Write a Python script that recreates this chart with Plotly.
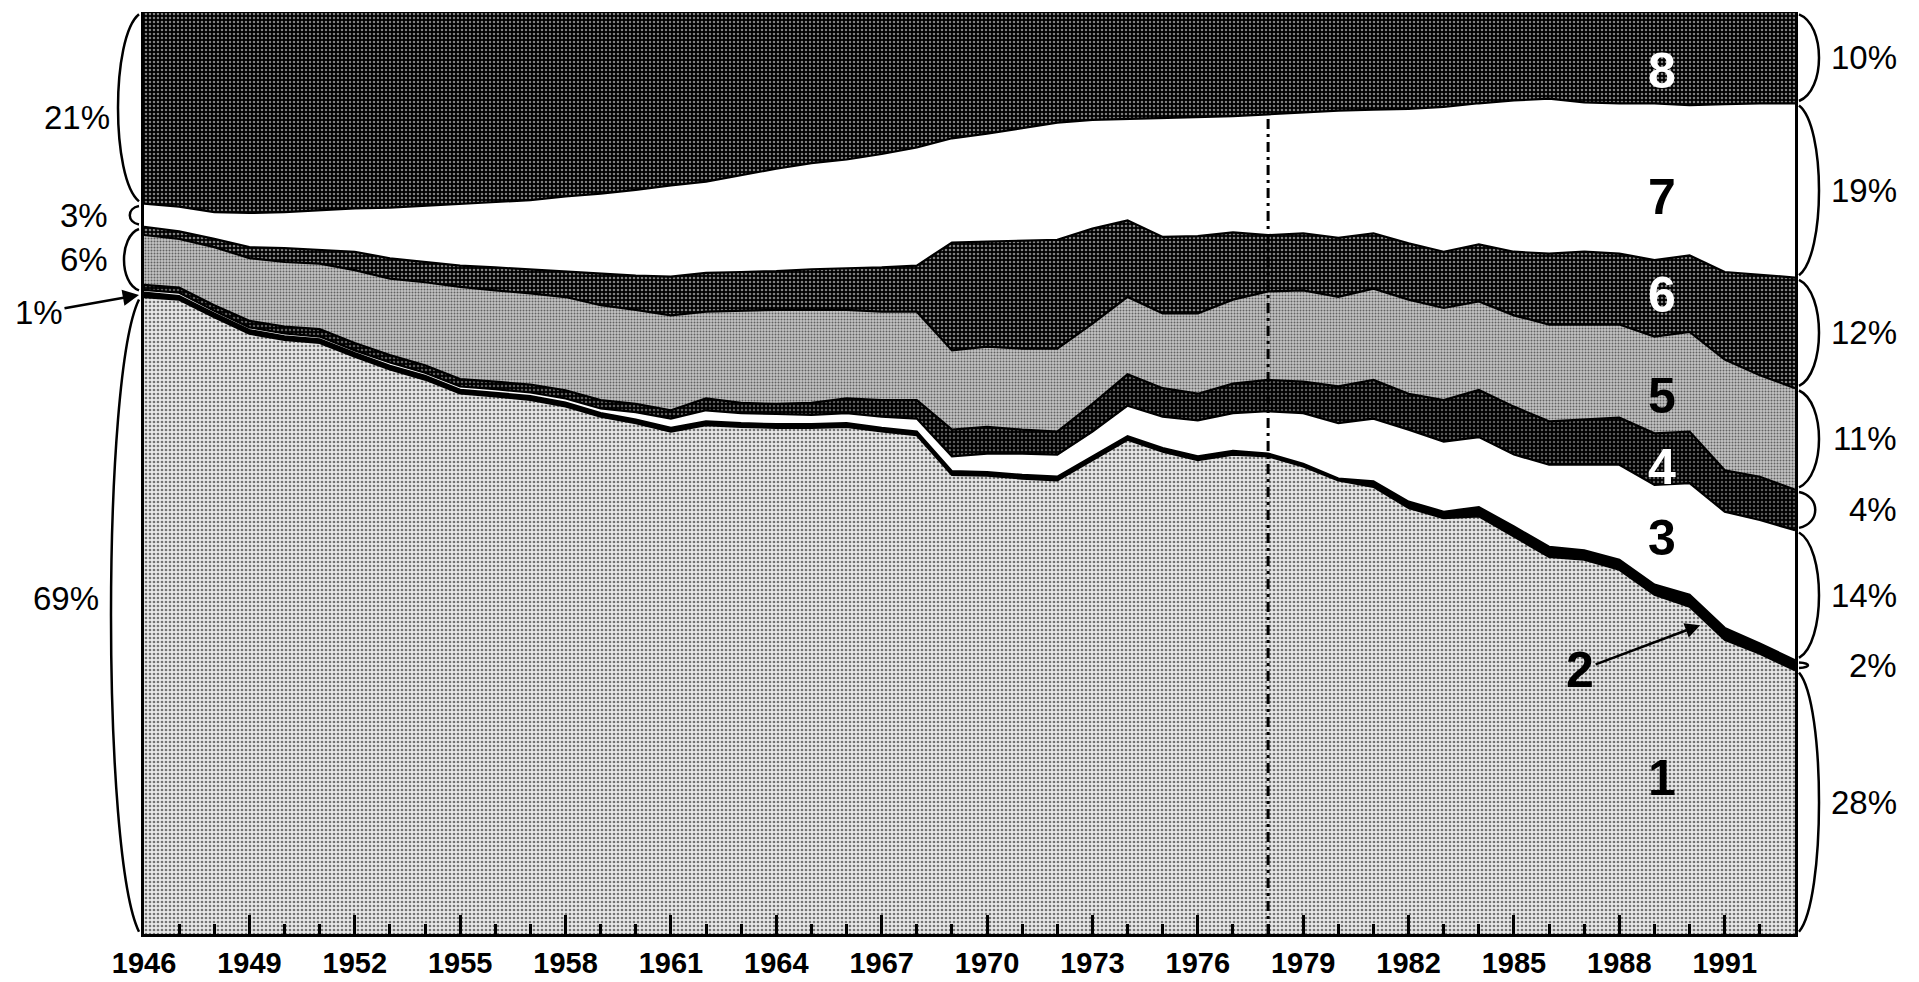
import plotly.graph_objects as go

years = list(range(1946, 1994))

layer1 = [69.1, 68.8, 66.9, 65.1, 64.4, 64.1, 62.6, 61.2, 60.1, 58.6, 58.3, 57.9, 57.2, 56.1, 55.4, 54.5,
          55.2, 55.0, 54.9, 54.9, 55.0, 54.5, 54.1, 49.8, 49.7, 49.4, 49.2, 51.4, 53.6, 52.3, 51.4, 52.0,
          51.8, 50.7, 49.2, 48.5, 46.2, 45.1, 45.3, 43.1, 40.9, 40.6, 39.5, 36.8, 35.5, 31.9, 30.4, 28.6]
layer2 = [0.5, 0.4, 0.4, 0.4, 0.4, 0.4, 0.4, 0.4, 0.4, 0.4, 0.4, 0.4, 0.4, 0.4, 0.4, 0.4,
          0.4, 0.4, 0.4, 0.4, 0.4, 0.4, 0.4, 0.4, 0.4, 0.4, 0.4, 0.4, 0.4, 0.4, 0.4, 0.4,
          0.3, 0.3, 0.2, 0.6, 0.7, 0.7, 1.0, 1.1, 1.1, 1.0, 1.1, 1.1, 1.3, 1.3, 1.1, 1.1]
layer3 = [0.3, 0.35, 0.3, 0.3, 0.3, 0.3, 0.3, 0.35, 0.35, 0.35, 0.4, 0.4, 0.45, 0.5, 0.8, 1.0,
          1.2, 1.1, 1.1, 1.0, 1.1, 1.2, 1.4, 1.6, 2.0, 2.3, 2.4, 2.7, 3.3, 3.4, 3.9, 4.1,
          4.6, 5.5, 6.0, 6.8, 7.8, 7.6, 7.6, 7.8, 8.9, 9.3, 10.3, 10.8, 12.1, 12.6, 13.4, 14.1]
layer4 = [0.55, 0.55, 0.6, 0.7, 0.75, 0.8, 0.8, 0.8, 0.8, 0.8, 0.8, 0.85, 0.9, 0.9, 0.9, 0.9,
          1.3, 1.1, 1.1, 1.3, 1.6, 1.8, 2.0, 2.9, 2.9, 2.6, 2.5, 3.0, 3.4, 3.1, 2.9, 3.2,
          3.4, 3.4, 4.0, 4.2, 3.9, 4.5, 5.1, 5.2, 4.7, 4.9, 5.1, 5.6, 5.6, 4.5, 4.7, 4.4]
layer5 = [5.4, 5.3, 6.3, 6.8, 7.0, 7.1, 7.9, 8.3, 9.0, 10.0, 9.9, 9.9, 10.1, 10.3, 10.2, 10.3,
          9.4, 10.0, 10.2, 10.1, 9.6, 9.6, 9.6, 8.6, 8.7, 8.8, 9.0, 8.7, 8.4, 8.1, 8.7, 9.1,
          9.6, 9.9, 9.7, 9.9, 10.2, 10.0, 9.6, 9.9, 10.5, 10.3, 10.1, 10.5, 10.8, 12.0, 11.0, 11.0]
layer6 = [0.9, 0.8, 0.9, 1.2, 1.5, 1.5, 2.0, 2.2, 2.2, 2.3, 2.5, 2.6, 2.8, 3.4, 3.7, 4.2,
          4.2, 4.2, 4.2, 4.4, 4.5, 4.8, 5.0, 11.7, 11.4, 11.7, 11.8, 10.3, 8.3, 8.3, 8.4, 7.3,
          6.1, 6.2, 6.4, 6.0, 6.1, 6.1, 6.2, 6.9, 7.7, 7.9, 7.7, 8.3, 8.3, 9.5, 10.9, 12.0]
layer7 = [2.5, 2.7, 2.9, 3.7, 3.9, 4.3, 4.7, 5.5, 6.1, 6.7, 7.1, 7.5, 8.1, 8.7, 9.3, 9.9,
          9.9, 10.5, 11.1, 11.5, 11.8, 12.3, 12.8, 11.3, 11.7, 12.2, 12.7, 11.8, 11.0, 12.9, 12.9, 12.6,
          13.1, 13.1, 13.8, 13.4, 14.6, 15.7, 15.3, 16.4, 16.8, 16.2, 16.3, 17.0, 16.3, 18.2, 18.6, 18.9]
layer8 = [20.8, 21.1, 21.7, 21.8, 21.7, 21.5, 21.3, 21.2, 21.0, 20.8, 20.6, 20.4, 20.0, 19.7, 19.3, 18.8,
          18.4, 17.7, 17.0, 16.4, 16.0, 15.4, 14.7, 13.7, 13.2, 12.6, 12.0, 11.7, 11.6, 11.5, 11.4, 11.3,
          11.1, 10.9, 10.7, 10.6, 10.5, 10.3, 9.9, 9.6, 9.4, 9.8, 9.9, 9.9, 10.1, 10.0, 9.9, 9.9]

layer_names = ["1", "2", "3", "4", "5", "6", "7", "8"]
left_labels = ["69%", "1%", "6%", "3%", "21%"]
right_labels = ["28%", "2%", "14%", "4%", "11%", "12%", "19%", "10%"]
major_ticks = list(range(1946, 1992, 3))
marker_year = 1978

layers = [layer1, layer2, layer3, layer4, layer5, layer6, layer7, layer8]

# fill styles (halftone-like patterns)
styles = [
    dict(fillcolor="#e8e8e8", fillpattern=dict(shape=".", fgcolor="black", bgcolor="#e8e8e8", size=4, solidity=0.36)),
    dict(fillcolor="black"),
    dict(fillcolor="white"),
    dict(fillcolor="black", fillpattern=dict(shape=".", fgcolor="#b8b8b8", bgcolor="black", size=4, solidity=0.3)),
    dict(fillcolor="#b8b8b8", fillpattern=dict(shape=".", fgcolor="black", bgcolor="#c4c4c4", size=3, solidity=0.35)),
    dict(fillcolor="black", fillpattern=dict(shape=".", fgcolor="white", bgcolor="black", size=4, solidity=0.34)),
    dict(fillcolor="white"),
    dict(fillcolor="black", fillpattern=dict(shape=".", fgcolor="white", bgcolor="black", size=4, solidity=0.32)),
]

fig = go.Figure()
for i, (vals, st) in enumerate(zip(layers, styles)):
    kw = dict(x=years, y=vals, mode="lines", stackgroup="one",
              line=dict(color="black", width=2.2), hoverinfo="skip", showlegend=False,
              fillcolor=st["fillcolor"])
    if "fillpattern" in st:
        kw["fillpattern"] = st["fillpattern"]
    if i == 0:
        kw["groupnorm"] = "percent"
    fig.add_trace(go.Scatter(**kw))

# geometry of plot area (pixels)
W, H = 1919, 982
PL, PR, PT, PB = 144, 124, 12, 48
PW = W - PL - PR
PH = H - PT - PB


def px2paper(px):
    return (px - PL) / PW


def cum_at(idx):
    tot = sum(l[idx] for l in layers)
    out, s = [0.0], 0.0
    for l in layers:
        s += l[idx]
        out.append(s / tot * 100)
    return out


cL = cum_at(0)
cR = cum_at(len(years) - 1)


def brace_path(xc_px, y0, y1, side, maxdepth=20):
    seg_px = (y1 - y0) / 100 * PH
    depth = min(maxdepth, max(9, seg_px * 0.4))
    xb_px = xc_px + side * depth / 0.75
    xc = px2paper(xc_px)
    xb = px2paper(xb_px)
    g = 0.25 / 100
    a, b = y0 / 100 + g, y1 / 100 - g
    h = b - a
    return f"M {xc},{a} C {xb},{a + h * 0.12} {xb},{b - h * 0.12} {xc},{b}"


shapes = []
annotations = []
pct_font = dict(family="Liberation Sans, Arial, sans-serif", size=33, color="black")

# left braces: (bottom, top, label, label right edge px, brace depth, label position within segment)
left_segments = [(cL[0], cL[1], left_labels[0], 101, 28, 0.527),
                 (cL[2], cL[6], left_labels[2], 110, 15, 0.5),
                 (cL[6], cL[7], left_labels[3], 110, 15, 0.5),
                 (cL[7], cL[8], left_labels[4], 112, 21, 0.45)]
for y0, y1, lab, xr, md, fr in left_segments:
    shapes.append(dict(type="path", xref="paper", yref="paper",
                       path=brace_path(139, y0, y1, -1, md), line=dict(color="black", width=2.5)))
    annotations.append(dict(xref="paper", yref="paper", x=px2paper(xr), y=(y0 + fr * (y1 - y0)) / 100,
                            xanchor="right", yanchor="middle", text=lab, showarrow=False, font=pct_font))
# 1% arrow
annotations.append(dict(xref="paper", yref="paper", x=px2paper(139), y=(cL[1] + cL[2]) / 200,
                        text=left_labels[1], showarrow=True, arrowhead=2, arrowsize=1.3, arrowwidth=2.5,
                        arrowcolor="black", ax=-100, ay=18, font=pct_font, xanchor="center"))

# right braces
for k in range(8):
    y0, y1 = cR[k], cR[k + 1]
    shapes.append(dict(type="path", xref="paper", yref="paper",
                       path=brace_path(1799, y0, y1, 1, 20), line=dict(color="black", width=2.5)))
    annotations.append(dict(xref="paper", yref="paper", x=px2paper(1899), y=(y0 + y1) / 200,
                            xanchor="right", yanchor="middle", text=right_labels[k], showarrow=False,
                            font=pct_font))

# dash-dot vertical marker at 1978
mi = years.index(marker_year)
cM = cum_at(mi)
shapes.append(dict(type="line", xref="x", yref="y", x0=marker_year, x1=marker_year, y0=0, y1=cM[7],
                   line=dict(color="black", width=3, dash="10px,5px,3px,5px"), layer="above"))

# layer numbers
num_font = dict(family="Liberation Sans, Arial, sans-serif", size=50, color="black", weight="bold")
label_x = 1989.2
label_pos = {"8": 93.6, "7": 79.9, "6": 69.3, "5": 58.4, "4": 50.7, "3": 43.0, "1": 16.9}
white_nums = {"8", "6", "4"}
for name in layer_names:
    if name == "2":
        continue
    f = dict(num_font)
    f["color"] = "white" if name in white_nums else "black"
    annotations.append(dict(xref="x", yref="y", x=label_x, y=label_pos[name], text=name,
                            showarrow=False, font=f, xanchor="center", yanchor="middle"))
# label 2 with arrow pointing at the thin layer 2
i90 = years.index(1990)
c90 = cum_at(i90)
annotations.append(dict(xref="x", yref="y", x=1990.3, y=c90[1] - 2.0,
                        text="2", showarrow=True, arrowhead=2, arrowsize=1.2, arrowwidth=2.5,
                        arrowcolor="black", ax=-120, ay=45, font=num_font, standoff=0))

fig.update_layout(
    width=W, height=H,
    margin=dict(l=PL, r=PR, t=PT, b=PB, pad=0),
    paper_bgcolor="white", plot_bgcolor="white",
    shapes=shapes, annotations=annotations,
    xaxis=dict(range=[1946, 1993], tickmode="array", tickvals=major_ticks,
               ticktext=[str(y) for y in major_ticks], automargin=False,
               ticks="inside", ticklen=19, tickwidth=2.5, tickcolor="black",
               showline=True, linewidth=3, linecolor="black", showgrid=False, zeroline=False,
               ticklabelstandoff=1,
               tickfont=dict(family="Liberation Sans, Arial, sans-serif",
                             size=29, color="black", weight="bold"),
               minor=dict(tickmode="linear", tick0=1946, dtick=1, ticks="inside", ticklen=10,
                          tickwidth=2.5, tickcolor="black", showgrid=False)),
    yaxis=dict(range=[0, 100], showticklabels=False, ticks="", showgrid=False, zeroline=False,
               showline=True, linewidth=3, linecolor="black", mirror=True, automargin=False),
)

fig.write_html("out.html", config={"displayModeBar": False},
               post_script="document.body.style.margin='0px';document.body.style.overflow='hidden';")
